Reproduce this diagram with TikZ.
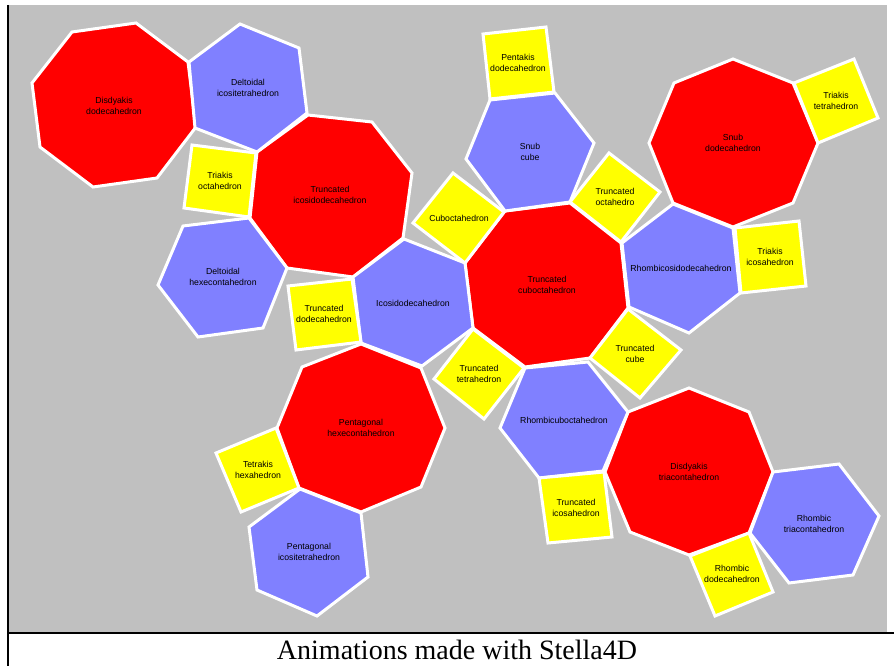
\documentclass[tikz,border=0pt]{standalone}
\usepackage{fontspec}
\setmainfont{Liberation Sans}
\newfontfamily\capfont{Liberation Serif}
\definecolor{bggray}{HTML}{C0C0C0}
\definecolor{octred}{HTML}{FF0000}
\definecolor{hexblue}{HTML}{8080FF}
\definecolor{sqyellow}{HTML}{FFFF00}
\begin{document}
\begin{tikzpicture}[x=1pt,y=-1pt,
  face/.style={draw=white,line width=3pt},
  octface/.style={face,fill=octred},
  hexface/.style={face,fill=hexblue},
  sqface/.style={face,fill=sqyellow},
  lab/.style={font=\fontsize{8.7}{11.7}\selectfont,align=center,inner sep=0pt,text=black}]
\useasboundingbox (0,0) rectangle (894,666);
\fill[white] (0,0) rectangle (894,666);
\fill[bggray] (8,5) rectangle (887,633);

% octagons
\path[octface] (72,32) -- (136,23) -- (188,62) -- (196,127) -- (157,178) -- (93,187) -- (40,147) -- (32,83) -- cycle;
\path[octface] (308,115) -- (372,122) -- (412,173) -- (403,238) -- (353,277) -- (287,268) -- (250,218) -- (257,152) -- cycle;
\path[octface] (505,211) -- (570,203) -- (621,243) -- (628,308) -- (590,358) -- (525,367) -- (473,328) -- (465,263) -- cycle;
\path[octface] (674,83) -- (733,59) -- (793,83) -- (818,143) -- (793,203) -- (733,227) -- (673,203) -- (649,143) -- cycle;
\path[octface] (628,412) -- (689,388) -- (749,412) -- (773,472) -- (749,533) -- (689,555) -- (630,532) -- (605,472) -- cycle;
\path[octface] (302,367) -- (361,344) -- (421,368) -- (445,428) -- (421,487) -- (361,512) -- (299,488) -- (277,428) -- cycle;

% hexagons
\path[hexface] (189,62) -- (240,24) -- (299,48) -- (307,113) -- (257,152) -- (195,128) -- cycle;
\path[hexface] (183,226) -- (249,218) -- (287,268) -- (263,328) -- (198,337) -- (158,285) -- cycle;
\path[hexface] (353,277) -- (404,239) -- (465,263) -- (473,328) -- (422,366) -- (361,343) -- cycle;
\path[hexface] (490,100) -- (555,93) -- (594,143) -- (570,202) -- (505,211) -- (466,159) -- cycle;
\path[hexface] (673,204) -- (733,228) -- (740,293) -- (689,333) -- (629,307) -- (622,243) -- cycle;
\path[hexface] (525,368) -- (588,362) -- (628,412) -- (603,471) -- (539,478) -- (500,428) -- cycle;
\path[hexface] (773,472) -- (839,464) -- (879,516) -- (853,575) -- (789,583) -- (750,533) -- cycle;
\path[hexface] (300,489) -- (361,513) -- (368,577) -- (317,616) -- (257,590) -- (249,527) -- cycle;

% squares
\path[sqface] (192,145) -- (256,153) -- (249,217) -- (184,208) -- cycle;
\path[sqface] (288,286) -- (352,279) -- (361,342) -- (296,350) -- cycle;
\path[sqface] (453,173) -- (504,212) -- (465,263) -- (413,223) -- cycle;
\path[sqface] (483,34) -- (546,27) -- (554,92) -- (490,99) -- cycle;
\path[sqface] (609,153) -- (660,192) -- (621,242) -- (570,202) -- cycle;
\path[sqface] (794,83) -- (854,59) -- (878,118) -- (818,143) -- cycle;
\path[sqface] (735,228) -- (799,221) -- (806,286) -- (741,293) -- cycle;
\path[sqface] (628,309) -- (681,350) -- (640,398) -- (590,358) -- cycle;
\path[sqface] (473,329) -- (524,368) -- (484,419) -- (434,379) -- cycle;
\path[sqface] (539,478) -- (604,472) -- (612,537) -- (548,543) -- cycle;
\path[sqface] (749,533) -- (773,592) -- (715,616) -- (690,556) -- cycle;
\path[sqface] (216,453) -- (276,428) -- (299,488) -- (241,512) -- cycle;

% labels
\node[lab] (ldd) at (114,106) {Disdyakis\\dodecahedron};
\node[lab] (lti) at (330,195) {Truncated\\icosidodecahedron};
\node[lab] (ltc) at (547,285) {Truncated\\cuboctahedron};
\node[lab] (lsd) at (733,143) {Snub\\dodecahedron};
\node[lab] (ldt) at (689,472) {Disdyakis\\triacontahedron};
\node[lab] (lph) at (361,428) {Pentagonal\\hexecontahedron};

\node[lab] (ldi) at (248,88) {Deltoidal\\icositetrahedron};
\node[lab] (ldh) at (223,277) {Deltoidal\\hexecontahedron};
\node[lab] (lid) at (413,303) {Icosidodecahedron};
\node[lab] (lsc) at (530,152) {Snub\\cube};
\node[lab] (lri) at (681,268) {Rhombicosidodecahedron};
\node[lab] (lrc) at (564,420) {Rhombicuboctahedron};
\node[lab] (lrt) at (814,524) {Rhombic\\triacontahedron};
\node[lab] (lpi) at (309,552) {Pentagonal\\icositetrahedron};

\node[lab] (lto) at (220,181) {Triakis\\octahedron};
\node[lab] (ltd) at (324,314) {Truncated\\dodecahedron};
\node[lab] (lco) at (459,218) {Cuboctahedron};
\node[lab] (lpd) at (518,63) {Pentakis\\dodecahedron};
\node[lab] (ltoc) at (615,197) {Truncated\\octahedro};
\node[lab] (ltt) at (836,101) {Triakis\\tetrahedron};
\node[lab] (ltic) at (770,257) {Triakis\\icosahedron};
\node[lab] (ltcu) at (635,354) {Truncated\\cube};
\node[lab] (ltte) at (479,374) {Truncated\\tetrahedron};
\node[lab] (ltico) at (576,508) {Truncated\\icosahedron};
\node[lab] (lrd) at (732,574) {Rhombic\\dodecahedron};
\node[lab] (lth) at (258,470) {Tetrakis\\hexahedron};

% frame lines and caption
\draw[line width=2pt] (8,5) -- (8,666);
\draw[line width=2.5pt] (8,633) -- (894,633);
\node[font=\capfont\fontsize{28}{30}\selectfont,anchor=base,inner sep=0pt] (cap) at (457,659) {Animations made with Stella4D};
\end{tikzpicture}
\end{document}
